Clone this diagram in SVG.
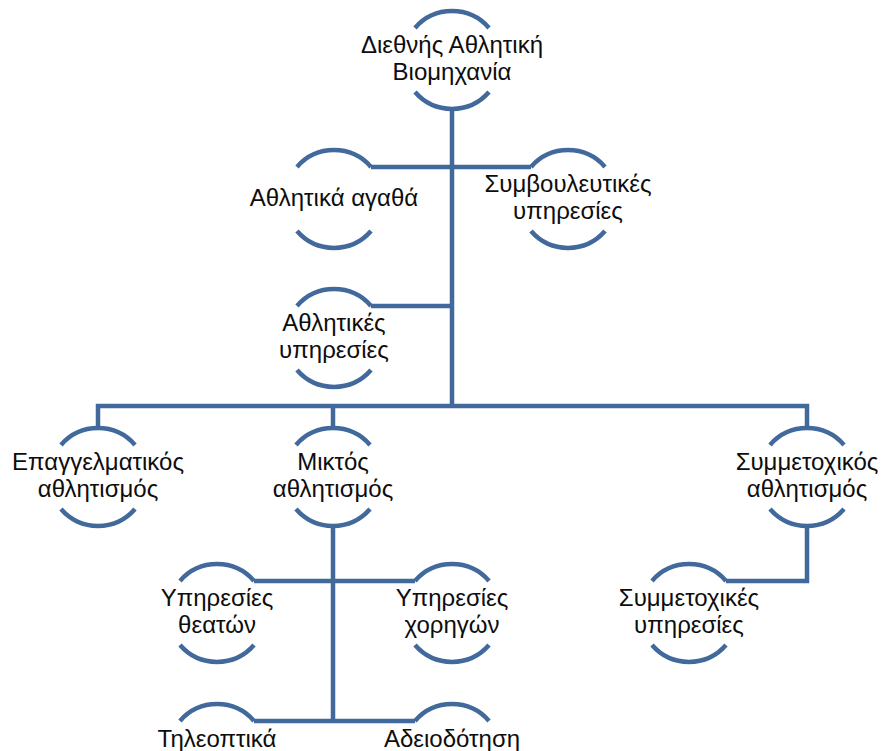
<svg xmlns="http://www.w3.org/2000/svg" width="884" height="751" viewBox="0 0 884 751">
<style>
.arc{fill:none;stroke:#41699b;stroke-width:4.5}
.ln{fill:none;stroke:#41699b;stroke-width:4.5;stroke-linejoin:miter}
text{font-family:"Liberation Sans",Arial,sans-serif;font-size:24px;fill:#0d0d0d;text-anchor:middle}
</style>
<defs>
<path id="nd" class="arc" d="M-37,-32 A49,49 0 0 1 37,-32 M-37,32 A49,49 0 0 0 37,32"/>
</defs>
<g id="connectors">
<path class="ln" d="M452,109 V406"/>
<path class="ln" d="M371,167 H531"/>
<path class="ln" d="M371,306 H452"/>
<path class="ln" d="M98,428 V406 H807 V428"/>
<path class="ln" d="M333,406 V428"/>
<path class="ln" d="M333,526 V721"/>
<path class="ln" d="M254,581 H415"/>
<path class="ln" d="M254,721 H415"/>
<path class="ln" d="M807,526 V581 H726"/>
</g>
<g id="n-root"><use href="#nd" x="452" y="60"/><text x="452" y="53">Διεθνής Αθλητική</text><text x="452" y="80">Βιομηχανία</text></g>
<g id="n-agatha"><use href="#nd" x="334" y="199"/><text x="334" y="206">Αθλητικά αγαθά</text></g>
<g id="n-symv"><use href="#nd" x="568" y="199"/><text x="568" y="192">Συμβουλευτικές</text><text x="568" y="219">υπηρεσίες</text></g>
<g id="n-athyp"><use href="#nd" x="334" y="338"/><text x="334" y="331">Αθλητικές</text><text x="334" y="358">υπηρεσίες</text></g>
<g id="n-epag"><use href="#nd" x="98" y="477"/><text x="98" y="470">Επαγγελματικός</text><text x="98" y="497">αθλητισμός</text></g>
<g id="n-mikt"><use href="#nd" x="333" y="477"/><text x="333" y="470">Μικτός</text><text x="333" y="497">αθλητισμός</text></g>
<g id="n-symm"><use href="#nd" x="807" y="477"/><text x="807" y="470">Συμμετοχικός</text><text x="807" y="497">αθλητισμός</text></g>
<g id="n-theat"><use href="#nd" x="217" y="613"/><text x="217" y="606">Υπηρεσίες</text><text x="217" y="633">θεατών</text></g>
<g id="n-chor"><use href="#nd" x="452" y="613"/><text x="452" y="606">Υπηρεσίες</text><text x="452" y="633">χορηγών</text></g>
<g id="n-symyp"><use href="#nd" x="689" y="613"/><text x="689" y="606">Συμμετοχικές</text><text x="689" y="633">υπηρεσίες</text></g>
<g id="n-tile"><use href="#nd" x="217" y="753"/><text x="217" y="747">Τηλεοπτικά</text></g>
<g id="n-adei"><use href="#nd" x="452" y="753"/><text x="452" y="747">Αδειοδότηση</text></g>
</svg>
